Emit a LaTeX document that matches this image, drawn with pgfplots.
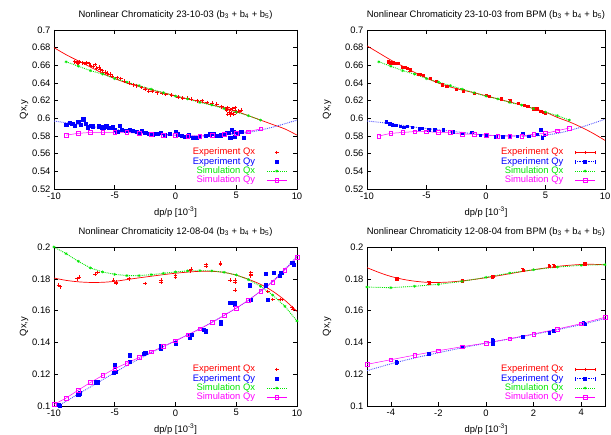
\documentclass[border=0pt]{standalone}
\usepackage{pgfplots}
\pgfplotsset{compat=1.18}
\usepackage{fontspec}
\setmainfont{Liberation Sans}
\definecolor{gred}{RGB}{255,0,0}
\definecolor{gblue}{RGB}{0,0,255}
\definecolor{ggreen}{RGB}{0,230,0}
\definecolor{gmag}{RGB}{255,0,255}
\definecolor{gfitblue}{RGB}{80,80,255}
\pgfplotsset{
  myax/.style={
    scale only axis, height=159pt,
    tick align=inside, major tick length=4pt,
    axis line style={line width=0.5pt},
    every tick/.style={black, line width=0.5pt},
    font=\fontsize{9.4}{11}\selectfont,
    /pgf/number format/assume math mode=true,
    yticklabel style={/pgf/number format/fixed, /pgf/number format/precision=2},
    xticklabel style={/pgf/number format/fixed},
    xlabel={dp/p [10\textsuperscript{-3}]},
    ylabel={Qx,y},
    every axis x label/.style={at={(axis description cs:0.5,-0.148)}, anchor=center},
    every axis title shift=0pt,
    every axis title/.style={at={(axis description cs:0.5,1.094)}, anchor=center},
    legend style={draw=none, fill=none, inner sep=0pt, outer sep=0pt,
      at={(axis description cs:0.96,0.025)}, anchor=south east,
      font=\fontsize{9.4}{11}\selectfont,
      nodes={inner sep=0.3pt, text height=6.8pt, text depth=1.9pt},
      row sep=0pt, column sep=11pt},
    legend cell align=right,
    legend plot pos=right,
    legend image code/.code={\draw[mark repeat=2,mark phase=2,##1] plot coordinates {(0pt,0pt) (10pt,0pt) (20pt,0pt)};},
  },
  capleg/.style={legend image code/.code={
    \draw[mark repeat=2,mark phase=2,##1] plot coordinates {(0pt,0pt) (10pt,0pt) (20pt,0pt)};
    \draw[##1,solid,mark=none] (0pt,-1.8pt)--(0pt,1.8pt) (20pt,-1.8pt)--(20pt,1.8pt);}},
  expx/.style={gred, only marks, mark=+, mark size=1.9pt, line width=0.75pt, mark options={gred}},
  expy/.style={gblue, only marks, mark=square*, mark size=1.6pt},
  simx/.style={ggreen, densely dotted, line width=0.9pt, mark=asterisk, mark size=1.5pt, mark options={solid, line width=0.5pt}},
  simy/.style={gmag, solid, line width=0.5pt, mark=square, mark size=1.8pt, mark options={solid}},
  fitx/.style={gred, solid, line width=0.7pt, mark=none, smooth},
  fity/.style={gfitblue, densely dotted, line width=0.9pt, mark=none, smooth},
  ebar/.style={error bars/y dir=both, error bars/y fixed=#1, error bars/error bar style={line width=0.6pt}, error bars/error mark options={rotate=90, mark size=1.4pt, line width=0.6pt}},
}
\begin{document}
\begin{tikzpicture}
\useasboundingbox (0,0) rectangle (611pt,435pt);

% ---------------- Panel 1 ----------------
\begin{axis}[myax, width=243pt, at={(54pt,246pt)}, anchor=south west,
  xmin=-10, xmax=10, ymin=0.52, ymax=0.7,
  xtick={-10,-5,0,5,10}, ytick={0.52,0.54,...,0.701},
  every axis y label/.style={at={(axis description cs:-0.123,0.5)}, rotate=90, anchor=center},
  title={Nonlinear Chromaticity 23-10-03 (b\textsubscript{3} + b\textsubscript{4} + b\textsubscript{5})}]
\addplot[fitx, forget plot] coordinates {(-10,0.680) (-9,0.672) (-8,0.665) (-7,0.658) (-6,0.651) (-5,0.645) (-4,0.640) (-3,0.636) (-2,0.632) (-1,0.629) (0,0.6255) (1,0.622) (2,0.619) (3,0.615) (4,0.612) (5,0.608) (6,0.603) (7,0.598) (8,0.593) (9,0.588) (10,0.581)};
\addplot[fity, forget plot] coordinates {(-10,0.597) (-8,0.593) (-6,0.589) (-4,0.586) (-2,0.583) (0,0.581) (2,0.580) (4,0.581) (6,0.584) (8,0.590) (10,0.598)};
\addplot[expx, forget plot] coordinates {(-8.3,0.664) (-8.1,0.663) (-7.9,0.664) (-7.7,0.663) (-7.5,0.662) (-7.3,0.663) (-7.1,0.662) (-8.0,0.662) (-7.0,0.660) (-6.8,0.659) (-6.6,0.661) (-6.5,0.657) (-6.3,0.658) (-6.2,0.655) (-6.0,0.654) (-5.8,0.652) (-5.6,0.651) (-5.4,0.650) (-5.2,0.648) (-4.8,0.646) (-4.5,0.645) (-4.2,0.642) (-3.8,0.640) (-3.5,0.638) (-3.2,0.637) (-2.8,0.635) (-2.5,0.633) (-2.2,0.631) (-1.9,0.631) (-1.5,0.629) (-1.1,0.628) (-0.8,0.627) (-0.3,0.626) (0.2,0.624) (0.6,0.623) (1.0,0.623) (1.3,0.622) (1.8,0.620) (2.2,0.620) (2.6,0.618) (3.0,0.617) (3.4,0.616) (3.8,0.613) (4.1,0.611) (4.3,0.612) (4.5,0.610) (4.7,0.611) (4.9,0.612) (4.4,0.607) (4.6,0.606) (4.8,0.605) (5.0,0.607) (4.2,0.609) (5.2,0.608) (5.4,0.609) (4.5,0.604) (4.9,0.609) (4.3,0.605)};
\addplot[expy, forget plot] coordinates {(-9,0.593) (-8.7,0.595) (-8.5,0.594) (-8.3,0.592) (-8,0.596) (-7.8,0.593) (-7.6,0.599) (-7.4,0.594) (-7.2,0.590) (-7,0.592) (-6.8,0.591) (-6.3,0.591) (-6.1,0.590) (-5.9,0.589) (-5.7,0.591) (-5.5,0.589) (-5.2,0.590) (-5,0.587) (-4.8,0.585) (-4.6,0.592) (-4.4,0.587) (-4.1,0.586) (-3.8,0.587) (-3.5,0.586) (-3.2,0.585) (-3,0.583) (-2.8,0.586) (-2.5,0.584) (-2.2,0.583) (-1.9,0.582) (-1.5,0.583) (-1.2,0.584) (-0.9,0.581) (-0.5,0.583) (0,0.585) (0.2,0.582) (0.5,0.580) (0.8,0.579) (1.1,0.581) (1.4,0.578) (1.7,0.578) (2,0.580) (2.5,0.580) (2.8,0.582) (3.1,0.583) (3.4,0.580) (3.7,0.581) (4,0.582) (4.2,0.584) (4.4,0.584) (4.6,0.587) (4.8,0.585) (4.5,0.578) (4.9,0.579) (5.1,0.583) (5.4,0.585) (5.6,0.578)};
\addplot[simx, forget plot] coordinates {(-9,0.664) (-8,0.659) (-7,0.654) (-6,0.650) (-5,0.645) (-4,0.641) (-3,0.637) (-2,0.633) (-1,0.629) (0,0.625) (1,0.622) (2,0.618) (3,0.615) (4,0.611) (5,0.607) (6,0.603) (7,0.598)};
\addplot[simy, forget plot] coordinates {(-9,0.581) (-8,0.583) (-7,0.584) (-6,0.584) (-5,0.584) (-4,0.584) (-3,0.583) (-2,0.582) (-1,0.581) (0,0.581) (1,0.580) (2,0.580) (3,0.581) (4,0.582) (5,0.583) (6,0.585) (7,0.588)};
\addlegendimage{expx}\addlegendentry{\textcolor{gred}{Experiment Qx}}
\addlegendimage{expy}\addlegendentry{\textcolor{gblue}{Experiment Qy}}
\addlegendimage{simx}\addlegendentry{\textcolor{ggreen}{Simulation Qx}}
\addlegendimage{simy}\addlegendentry{\textcolor{gmag}{Simulation Qy}}
\end{axis}

% ---------------- Panel 2 ----------------
\begin{axis}[myax, width=238pt, at={(367pt,246pt)}, anchor=south west,
  xmin=-10, xmax=10, ymin=0.52, ymax=0.7,
  xtick={-10,-5,0,5,10}, ytick={0.52,0.54,...,0.701},
  every axis y label/.style={at={(axis description cs:-0.168,0.5)}, rotate=90, anchor=center},
  title={Nonlinear Chromaticity 23-10-03 from BPM (b\textsubscript{3} + b\textsubscript{4} + b\textsubscript{5})}]
\addplot[fitx, forget plot] coordinates {(-10,0.682) (-9,0.674) (-8,0.666) (-7,0.659) (-6,0.652) (-5,0.6455) (-4,0.640) (-3,0.6355) (-2,0.632) (-1,0.629) (0,0.6255) (1,0.622) (2,0.6185) (3,0.615) (4,0.611) (5,0.607) (6,0.601) (7,0.596) (8,0.590) (9,0.583) (10,0.575)};
\addplot[fity, forget plot] coordinates {(-10,0.597) (-8,0.594) (-6,0.590) (-4,0.587) (-2,0.584) (0,0.581) (2,0.580) (4,0.580) (6,0.583) (8,0.590) (10,0.599)};
\addplot[gred, only marks, mark=square*, mark size=1.1pt, ebar=0.0013, forget plot] coordinates {(-8.2,0.664) (-8,0.663) (-7.8,0.663) (-7.6,0.662) (-7.4,0.662) (-7,0.658) (-6.8,0.658) (-6.6,0.657) (-6.4,0.655) (-5.7,0.650) (-5.5,0.650) (-5.3,0.649) (-4.7,0.645) (-4.2,0.642) (-3.7,0.638) (-3.3,0.636) (-2.5,0.633) (-1.9,0.631) (-1,0.628) (0,0.626) (0.3,0.625) (1.3,0.622) (2,0.620) (2.7,0.617) (3.2,0.615) (3.5,0.614) (4,0.611) (4.3,0.611) (4.6,0.608) (4.8,0.607) (5.0,0.606)};
\addplot[gblue, only marks, mark=square*, mark size=1.2pt, ebar=0.0013, forget plot] coordinates {(-8.4,0.596) (-8.1,0.594) (-7.9,0.593) (-7.6,0.592) (-7.2,0.591) (-6.9,0.590) (-6.6,0.591) (-6.2,0.590) (-5.6,0.588) (-5.4,0.589) (-4.8,0.587) (-4.3,0.587) (-3.6,0.587) (-2.8,0.585) (-2,0.583) (-1.2,0.584) (-0.5,0.581) (0,0.581) (0.8,0.579) (1.4,0.579) (2.0,0.580) (2.6,0.580) (3.1,0.583) (3.6,0.580) (4.3,0.582) (4.6,0.587) (4.7,0.578) (4.9,0.581)};
\addplot[simx, forget plot] coordinates {(-9,0.664) (-8,0.659) (-7,0.654) (-6,0.650) (-5,0.645) (-4,0.641) (-3,0.637) (-2,0.633) (-1,0.629) (0,0.625) (1,0.622) (2,0.618) (3,0.615) (4,0.611) (5,0.607) (6,0.603) (7,0.598)};
\addplot[simy, forget plot] coordinates {(-9,0.580) (-8,0.583) (-7,0.584) (-6,0.585) (-5,0.585) (-4,0.584) (-3,0.584) (-2,0.582) (-1,0.582) (0,0.581) (1,0.580) (2,0.580) (3,0.580) (4,0.582) (5,0.583) (6,0.586) (7,0.589)};
\addlegendimage{gred, solid, line width=0.7pt, mark=+, mark size=1.6pt, mark options={gred}, capleg}\addlegendentry{\textcolor{gred}{Experiment Qx}}
\addlegendimage{gblue, densely dotted, line width=0.8pt, mark=square*, mark size=1.2pt, mark options={solid, gblue}, capleg}\addlegendentry{\textcolor{gblue}{Experiment Qy}}
\addlegendimage{simx}\addlegendentry{\textcolor{ggreen}{Simulation Qx}}
\addlegendimage{simy}\addlegendentry{\textcolor{gmag}{Simulation Qy}}
\end{axis}

% ---------------- Panel 3 ----------------
\begin{axis}[myax, width=243pt, at={(54pt,29pt)}, anchor=south west,
  xmin=-10, xmax=10, ymin=0.1, ymax=0.2,
  xtick={-10,-5,0,5,10}, ytick={0.1,0.12,...,0.201},
  every axis y label/.style={at={(axis description cs:-0.123,0.5)}, rotate=90, anchor=center},
  title={Nonlinear Chromaticity 12-08-04 (b\textsubscript{3} + b\textsubscript{4} + b\textsubscript{5})}]
\addplot[fitx, forget plot] coordinates {(-10,0.1805) (-9,0.1790) (-8,0.1781) (-7,0.1777) (-6,0.1778) (-5,0.1784) (-4,0.1795) (-3,0.1806) (-2,0.1816) (-1,0.1826) (0,0.1835) (1,0.1842) (2,0.1847) (3,0.1847) (4,0.1840) (5,0.1823) (6,0.1797) (7,0.1765) (8,0.1722) (9,0.1665) (10,0.1595)};
\addplot[fity, forget plot] coordinates {(-10,0.0985) (-8,0.1075) (-6,0.1165) (-4,0.1255) (-2,0.1335) (0,0.1410) (2,0.1485) (4,0.1570) (6,0.1665) (8,0.1785) (10,0.1940)};
\addplot[expx, forget plot] coordinates {(-9.6,0.176) (-9.5,0.175) (-8.1,0.180) (-7.9,0.181) (-6.6,0.183) (-6.4,0.184) (-5.1,0.179) (-4.9,0.178) (-4.9,0.177) (-3.8,0.180) (-2.5,0.177) (-1.2,0.178) (-1.2,0.179) (0,0.181) (0,0.182) (1.2,0.185) (1.3,0.186) (2.5,0.189) (2.5,0.188) (3.7,0.190) (3.7,0.189) (4.5,0.179) (4.9,0.179) (4.9,0.173) (4.9,0.178) (6.2,0.182) (6.2,0.183) (6.2,0.184) (7.6,0.172) (8,0.167) (8.6,0.167) (8.8,0.167) (9.7,0.161) (9.6,0.162)};
\addplot[expy, forget plot] coordinates {(-9.6,0.101) (-9.5,0.100) (-8,0.107) (-7.9,0.108) (-6.6,0.115) (-6.4,0.115) (-5.1,0.121) (-4.9,0.1215) (-5,0.125) (-5,0.126) (-3.8,0.128) (-3.8,0.132) (-2.5,0.1335) (-2.6,0.133) (-1.2,0.136) (-1.2,0.138) (0,0.139) (0,0.1395) (1.2,0.143) (1.2,0.144) (1.3,0.145) (2.5,0.147) (2.3,0.148) (3.7,0.152) (3.7,0.153) (4.5,0.165) (4.9,0.165) (4.9,0.164) (6.2,0.167) (6.1,0.176) (7.4,0.183) (7.4,0.176) (7.6,0.167) (8.1,0.184) (8.6,0.182) (8.7,0.184) (9.7,0.189) (9.6,0.190)};
\addplot[simx, forget plot] coordinates {(-10,0.200) (-9,0.1958) (-8,0.191) (-7,0.1868) (-6,0.1843) (-5,0.1828) (-4,0.182) (-3,0.182) (-2,0.1826) (-1,0.1834) (0,0.1843) (1,0.185) (2,0.1851) (3,0.185) (4,0.1841) (5,0.1824) (6,0.1795) (7,0.1753) (8,0.1698) (9,0.1627) (10,0.1535)};
\addplot[simy, forget plot] coordinates {(-10,0.101) (-9,0.105) (-8,0.110) (-7,0.1148) (-6,0.1192) (-5,0.1235) (-4,0.127) (-3,0.1305) (-2,0.134) (-1,0.1375) (0,0.141) (1,0.1447) (2,0.1485) (3,0.1525) (4,0.157) (5,0.1615) (6,0.1665) (7,0.1722) (8,0.178) (9,0.1855) (10,0.1935)};
\addlegendimage{expx}\addlegendentry{\textcolor{gred}{Experiment Qx}}
\addlegendimage{expy}\addlegendentry{\textcolor{gblue}{Experiment Qy}}
\addlegendimage{simx}\addlegendentry{\textcolor{ggreen}{Simulation Qx}}
\addlegendimage{simy}\addlegendentry{\textcolor{gmag}{Simulation Qy}}
\end{axis}

% ---------------- Panel 4 ----------------
\begin{axis}[myax, width=238pt, at={(367pt,29pt)}, anchor=south west,
  xmin=-5, xmax=5, ymin=0.1, ymax=0.2,
  xtick={-4,-2,0,2,4}, ytick={0.1,0.12,...,0.201},
  every axis y label/.style={at={(axis description cs:-0.168,0.5)}, rotate=90, anchor=center},
  title={Nonlinear Chromaticity 12-08-04 from BPM (b\textsubscript{3} + b\textsubscript{4} + b\textsubscript{5})}]
\addplot[fitx, forget plot] coordinates {(-5,0.1870) (-4.5,0.1840) (-4,0.1815) (-3.5,0.1797) (-3,0.1785) (-2.5,0.1778) (-2,0.1777) (-1.5,0.1780) (-1,0.1787) (-0.5,0.1796) (0,0.1807) (0.5,0.1819) (1,0.1832) (1.5,0.1845) (2,0.1857) (2.5,0.1868) (3,0.1878) (3.5,0.1885) (4,0.1890) (4.5,0.1891) (5,0.1888)};
\addplot[fity, forget plot] coordinates {(-5,0.1222) (-4,0.1265) (-3,0.1302) (-2,0.1335) (-1,0.1366) (0,0.1395) (1,0.1422) (2,0.1450) (3,0.1480) (4,0.1512) (5,0.1550)};
\addplot[gred, only marks, mark=square*, mark size=1.1pt, ebar=0.001, forget plot] coordinates {(-3.75,0.180) (-2.4,0.1775) (-1,0.1785) (0.28,0.1815) (1.55,0.1855) (2.65,0.188) (2.85,0.188) (4.15,0.1895)};
\addplot[gblue, only marks, mark=square*, mark size=1.3pt, ebar=0.001, forget plot] coordinates {(-3.75,0.1275) (-2.4,0.133) (-1,0.137) (0.28,0.1415) (0.28,0.139) (1.55,0.1435) (2.65,0.146) (2.85,0.1475) (4.15,0.1515) (4.1,0.152)};
\addplot[simx, forget plot] coordinates {(-5,0.1748) (-4,0.1744) (-3,0.1753) (-2,0.1765) (-1,0.1784) (0,0.1809) (1,0.1836) (2,0.1857) (3,0.1874) (4,0.1885) (5,0.1889)};
\addplot[simy, forget plot] coordinates {(-5,0.1262) (-4,0.1291) (-3,0.132) (-2,0.1348) (-1,0.1373) (0,0.1396) (1,0.1423) (2,0.1453) (3,0.1484) (4,0.1518) (5,0.1558)};
\addlegendimage{gred, solid, line width=0.7pt, mark=+, mark size=1.6pt, mark options={gred}, capleg}\addlegendentry{\textcolor{gred}{Experiment Qx}}
\addlegendimage{gblue, densely dotted, line width=0.8pt, mark=square*, mark size=1.2pt, mark options={solid, gblue}, capleg}\addlegendentry{\textcolor{gblue}{Experiment Qy}}
\addlegendimage{simx}\addlegendentry{\textcolor{ggreen}{Simulation Qx}}
\addlegendimage{simy}\addlegendentry{\textcolor{gmag}{Simulation Qy}}
\end{axis}
\end{tikzpicture}
\end{document}
